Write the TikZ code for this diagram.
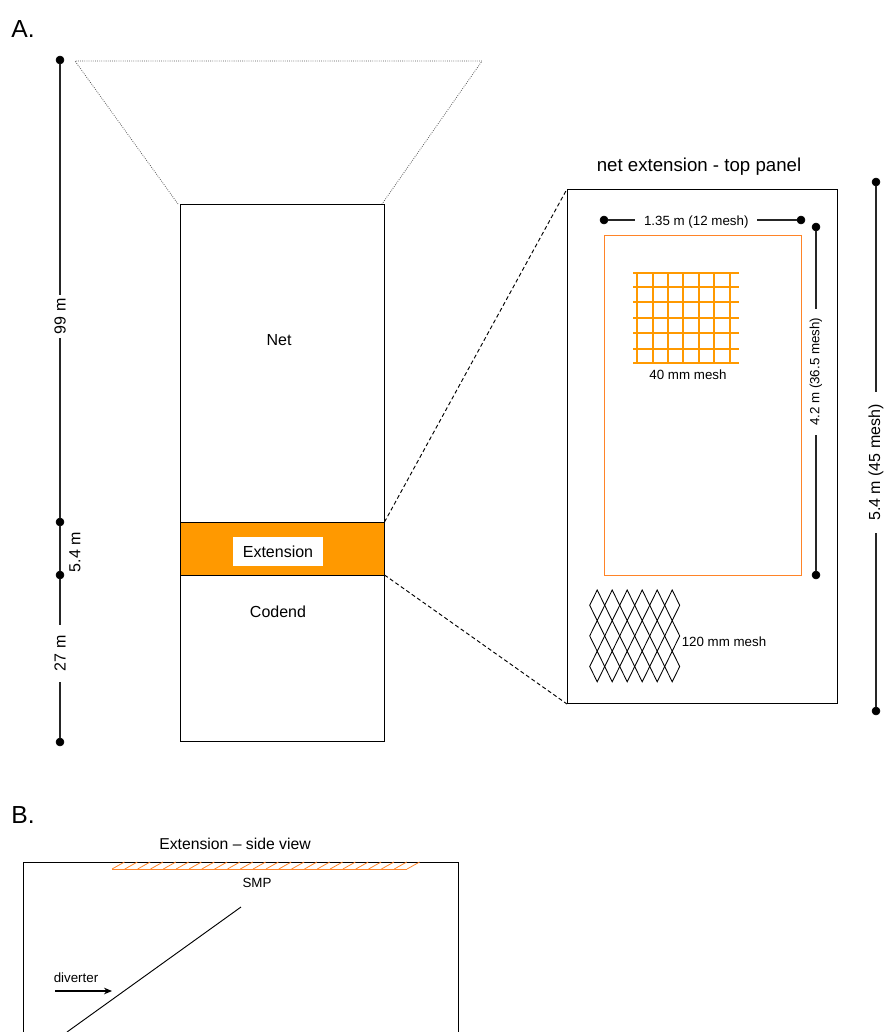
\documentclass[tikz,border=0pt]{standalone}
\usepackage{fontspec}
\setmainfont{Liberation Sans}
\usepackage{tikz}
\usetikzlibrary{arrows.meta}
\definecolor{extorange}{HTML}{FF9900}
\definecolor{smporange}{HTML}{FF8428}
\tikzstyle{dimdot}=[circle,fill=black,draw,minimum size=6pt,inner sep=0pt]
\tikzstyle{dimline} = [draw,line width=0.85pt,black!85]
\tikzstyle{dimlabel} = [font=\fontsize{10}{12}\selectfont,text=black,rotate=90,fill=white,inner xsep=6.5pt,inner ysep=1pt]
\tikzstyle{bigdimlabel} = [dimlabel,font=\fontsize{12}{14}\selectfont]
\tikzstyle{weight} = [font=\fontsize{10}{12}\selectfont]
\tikzstyle{part} = [font=\fontsize{12}{14}\selectfont]
\tikzstyle{letter} = [font=\fontsize{18.5}{20}\selectfont]
\tikzstyle{outline} = [draw,line width=0.75pt]

\begin{document}
\begin{tikzpicture}[x=0.75pt,y=-0.75pt]
    \useasboundingbox (0,0) rectangle (883,1032);

%Corners
    \foreach \pos/\name in {{(75,61)/mouthL}, {(482,61)/mouthR}, {(178,204)/neckL}, {(382,204)/neckR}, {(384.5,522)/extNE}, {(384.5,575)/extSE}, {(567,189)/panelNW}, {(567,704)/panelSW}, {(241,907)/divtop}, {(67,1032)/divbot}, {(55,991)/arrowA}, {(112,991)/arrowB}}
        \node[coordinate] (\name) at \pos {};

%Net and extension
    \path[draw=black!65,densely dotted,line width=0.6pt] (neckL) -- (mouthL) -- (mouthR) -- (neckR);
    \path[fill=extorange] (180.7,522) rectangle (384.5,575);
    \path[outline] (180.7,204.5) rectangle (384.5,741.5);
    \path[outline] (180.7,522) -- (384.5,522);
    \path[outline] (180.7,575) -- (384.5,575);
    \path[draw,dash pattern=on 3pt off 2pt,line width=0.7pt] (extNE) -- (panelNW);
    \path[draw,dash pattern=on 3pt off 2pt,line width=0.7pt] (extSE) -- (panelSW);

    \node[part] (net) at (279,340) {Net};
    \node[part,fill=white,minimum width=67.5pt,minimum height=21.75pt,inner sep=0pt] (extension) at (278,551.5) {Extension};
    \node[part] (codend) at (278,612) {Codend};

% Panel
    \path[outline] (panelNW) rectangle (837.7,703.7);
    \node[font=\fontsize{14}{16}\selectfont] (paneltitle) at (699,167) {net extension - top panel};
    \path[draw=smporange,line width=0.55pt] (604.5,235) rectangle (801,575);

%40 mm mesh
    \foreach \y in {273,287,302,318,333,349,363}
        \draw[extorange,line width=1.1pt] (633,\y) -- (739,\y);
    \foreach \x in {637,653,668,683,699,714,730}
        \draw[extorange,line width=1.1pt] (\x,273) -- (\x,363);
    \node[weight] (smalllabel) at (688,374.5) {40 mm mesh};

%120 mm mesh
    \foreach \i in {0,...,5}
        \foreach \j in {0,1,2}
            \draw[line width=0.65pt] (597.2+15*\i,590+30.6*\j) -- ++(7.5,15.3) -- ++(-7.5,15.3) -- ++(-7.5,-15.3) -- cycle;
    \node[weight] (largelabel) at (724,642) {120 mm mesh};

%Dimension dots
    \foreach \pos/\name in {{(60,60)/a1}, {(60,522)/a2}, {(60,575)/a3}, {(60,742)/a4}, {(604,220)/b1}, {(801,220)/b2}, {(816,227)/c1}, {(816,575)/c2}, {(876,182)/d1}, {(876,711)/d2}}
        \node[dimdot] (\name) at \pos {};

%Dimension lines
    \path[dimline] (a1) -- node[bigdimlabel,inner xsep=3pt,pos=0.556] (lbl99) {99 m} (a2);
    \path[dimline] (a2) -- (a3);
    \path[dimline] (a3) -- node[bigdimlabel,inner xsep=8pt,pos=0.467] (lbl27) {27 m} (a4);
    \path[dimline] (b1) -- node[dimlabel,rotate=-90,pos=0.467,yshift=-1.5pt] (lblwide) {1.35 m (12 mesh)} (b2);
    \path[dimline] (c1) -- node[dimlabel,pos=0.414] (lbllong) {4.2 m (36.5 mesh)} (c2);
    \path[dimline] (d1) -- node[bigdimlabel,inner xsep=9pt,pos=0.531] (lblpanel) {5.4 m (45 mesh)} (d2);
    \node[bigdimlabel,fill=none] (lblext) at (75,552) {5.4 m};

%Side view
    \node[font=\fontsize{11.8}{14}\selectfont] (sidetitle) at (235,844) {Extension – side view};
    \draw[line width=0.75pt] (23,1032) -- (23,862) -- (458,862) -- (458,1032);
    \foreach \i in {0,...,23}
        \draw[smporange,line width=0.6pt] (112+12.83*\i,869) -- ++(12.5,-7);
    \draw[smporange,line width=0.7pt] (112,869) -- (407,869);
    \node[weight] (smp) at (257,883) {SMP};
    \path[draw,line width=0.7pt] (divbot) -- (divtop);
    \node[weight] (diverter) at (76,978) {diverter};
    \path[draw,line width=0.8pt,-{Stealth[length=6pt,width=5pt]}] (arrowA) -- (arrowB);

% Label
    \node[letter] (labelA) at (23,29) {A.};
    \node[letter] (labelB) at (23,815) {B.};

\end{tikzpicture}
\end{document}
